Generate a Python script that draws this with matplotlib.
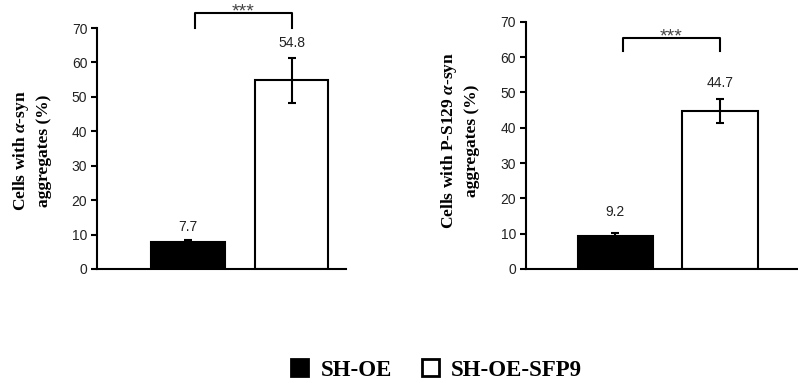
import matplotlib.pyplot as plt
from matplotlib.patches import Patch

plt.rcParams["font.family"] = ["Liberation Sans", "DejaVu Sans"]
plt.rcParams["mathtext.fontset"] = "custom"
plt.rcParams["mathtext.it"] = "Liberation Serif:italic:bold"
plt.rcParams["mathtext.rm"] = "Liberation Serif:bold"

groups = ["SH-OE", "SH-OE-SFP9"]
colors = ["black", "white"]

# panel A: alpha-syn aggregates
vals_a = [7.7, 54.8]
err_a = [0.8, 6.5]
# panel B: P-S129 alpha-syn aggregates
vals_b = [9.2, 44.7]
err_b = [1.1, 3.3]

ylabels = ["Cells with $\\alpha$-syn\naggregates (%)",
           "Cells with P-S129 $\\alpha$-syn\naggregates (%)"]
sig = "***"

fig = plt.figure(figsize=(7.98, 3.83), dpi=100)
ax1 = fig.add_axes([0.1216, 0.2977, 0.312, 0.629])
ax2 = fig.add_axes([0.659, 0.2977, 0.341, 0.6456])

panels = [
    (ax1, vals_a, err_a, (0.12, 2.527), 74.4, 70.0, 0.71, -0.18, 0.49, [9, 11]),
    (ax2, vals_b, err_b, (0.144, 2.746), 65.3, 61.8, 0.72, -0.17, 0.52, [14.5, 11.5]),
]

for i, (ax, vals, errs, xl, br_top, br_bot, w, lx, ly, offs) in enumerate(panels):
    x = [1, 2]
    ax.bar(x, vals, width=w, color=colors, edgecolor="black", linewidth=1.5,
           zorder=2)
    ax.errorbar(x, vals, yerr=errs, fmt="none", ecolor="black", elinewidth=1.5,
                capsize=3, capthick=1.5, zorder=3)
    for xi, v, e, off in zip(x, vals, errs, offs):
        ax.annotate(f"{v}", (xi, v + e), xytext=(0, off),
                    textcoords="offset points", ha="center", va="center",
                    fontsize=10, color="#222222")
    # significance bracket
    ax.plot([1.07, 1.07, 2.0, 2.0], [br_bot, br_top, br_top, br_bot],
            color="black", lw=1.5, clip_on=False, zorder=4)
    ax.text(1.53, br_top + 0.3, sig, ha="center", va="center", fontsize=14,
            color="#444444", clip_on=False)

    ax.set_xlim(*xl)
    ax.set_ylim(0, 70)
    ax.set_yticks(range(0, 71, 10))
    ax.set_xticks([])
    ax.spines["top"].set_visible(False)
    ax.spines["right"].set_visible(False)
    ax.spines["left"].set_linewidth(1.5)
    ax.spines["bottom"].set_linewidth(1.5)
    ax.tick_params(axis="y", direction="out", length=4, width=1.5,
                   labelsize=10, labelcolor="#222222", pad=3)
    ax.set_ylabel(ylabels[i], family="Liberation Serif", fontweight="bold",
                  fontsize=12.5, linespacing=1.4)
    ax.yaxis.set_label_coords(lx, ly)

handles = [Patch(facecolor=c, edgecolor="black", linewidth=2) for c in colors]
fig.legend(handles, groups, loc="center", bbox_to_anchor=(0.547, 0.034),
           ncol=2, frameon=False, handlelength=0.75, handleheight=0.75,
           handletextpad=0.52, columnspacing=1.3,
           prop={"family": "Liberation Serif", "weight": "bold", "size": 16.5})

fig.savefig("out.png", dpi=100)
